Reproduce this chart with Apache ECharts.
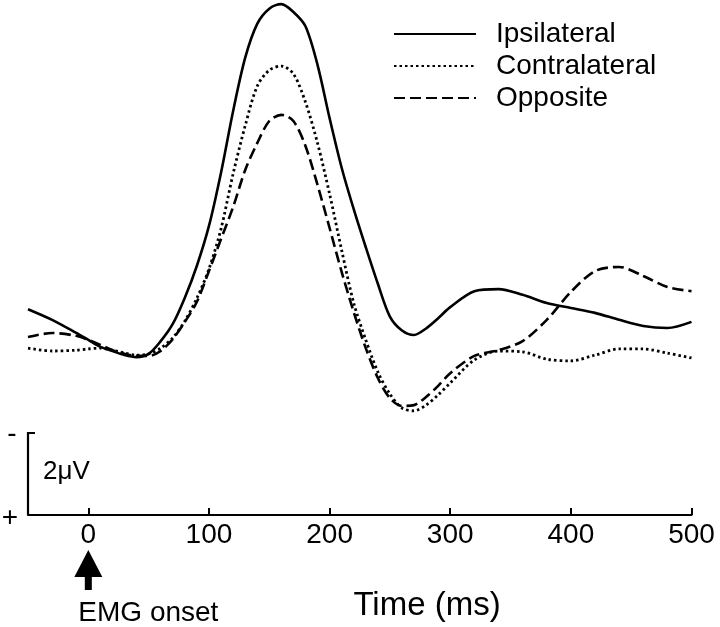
<!DOCTYPE html>
<html>
<head>
<meta charset="utf-8">
<script src="https://cdn.jsdelivr.net/npm/echarts@6/dist/echarts.min.js"></script>
<style>
html,body{margin:0;padding:0;background:#fff;}
#chart{width:720px;height:627px;}
</style>
</head>
<body>
<div id="chart"></div>
<script>
// Time (ms)
const times = [-50,-30,-10,0,10,20,30,40,50,60,70,80,90,100,110,120,130,140,150,160,170,180,190,200,210,220,230,240,250,260,270,280,290,300,320,340,360,380,400,420,440,460,480,500];
// Amplitude (µV), negative plotted upward
const ipsilateral = [-1.02,-0.76,-0.44,-0.27,-0.10,0.00,0.10,0.15,0.07,-0.24,-0.66,-1.30,-2.08,-3.05,-4.35,-5.85,-7.15,-7.98,-8.35,-8.46,-8.27,-7.92,-6.98,-5.68,-4.47,-3.46,-2.53,-1.64,-0.84,-0.50,-0.39,-0.55,-0.80,-1.07,-1.46,-1.51,-1.37,-1.17,-1.05,-0.93,-0.76,-0.61,-0.56,-0.71];
const contralateral = [-0.07,0.00,-0.02,-0.05,-0.07,-0.02,0.05,0.10,0.07,-0.07,-0.32,-0.73,-1.29,-2.00,-2.98,-4.32,-5.49,-6.46,-6.85,-6.95,-6.76,-6.07,-5.07,-3.83,-2.46,-1.17,-0.27,0.51,1.05,1.39,1.46,1.32,1.07,0.78,0.22,0.00,0.02,0.20,0.24,0.10,-0.05,-0.05,0.05,0.17];
const opposite = [-0.34,-0.44,-0.37,-0.27,-0.15,-0.02,0.07,0.12,0.12,0.00,-0.29,-0.71,-1.20,-1.95,-2.73,-3.51,-4.41,-5.07,-5.61,-5.76,-5.61,-5.00,-4.05,-3.00,-1.93,-0.95,-0.07,0.66,1.15,1.34,1.32,1.12,0.85,0.54,0.12,-0.02,-0.24,-0.76,-1.44,-1.95,-2.05,-1.83,-1.56,-1.46];
const tickValues = [0,100,200,300,400,500];
const seriesNames = ['Ipsilateral','Contralateral','Opposite'];
const scaleBar = [2, 4]; // µV span of the calibration bar (2 µV)

const FONT = 'Liberation Sans, Arial, Helvetica, sans-serif';
const chart = echarts.init(document.getElementById('chart'), null, {renderer:'canvas'});

function pairs(arr){ return times.map((t,i)=>[t, arr[i]]); }

const lineBase = {type:'line', smooth:0.3, symbol:'none', showSymbol:false, silent:true, animation:false};

chart.setOption({
  animation:false,
  backgroundColor:'#ffffff',
  grid:{left:28, right:28.5, top:2.5, bottom:112, containLabel:false},
  legend:{
    orient:'vertical', left:388, top:15,
    itemWidth:82, itemHeight:14, itemGap:4,
    itemStyle:{color:'rgba(0,0,0,0)', borderWidth:0, opacity:0},
    textStyle:{fontFamily:FONT, fontSize:28, color:'#000', padding:[0,0,0,15]},
    data:seriesNames
  },
  xAxis:{
    type:'value', min:-50, max:500,
    axisLine:{show:true, onZero:false, lineStyle:{color:'#000', width:2.2}},
    axisTick:{show:true, inside:true, length:7, customValues:tickValues, lineStyle:{color:'#000', width:2}},
    axisLabel:{show:true, customValues:tickValues, margin:6, fontFamily:FONT, fontSize:28, color:'#000'},
    splitLine:{show:false}
  },
  yAxis:{
    type:'value', inverse:true, min:-8.5, max:4,
    show:false, splitLine:{show:false}
  },
  series:[
    Object.assign({}, lineBase, {name:seriesNames[0], data:pairs(ipsilateral), lineStyle:{color:'#000', width:2.6, type:'solid'}, itemStyle:{color:'#000'}}),
    Object.assign({}, lineBase, {name:seriesNames[1], data:pairs(contralateral), lineStyle:{color:'#000', width:2.8, type:[2.5,3]}, itemStyle:{color:'#000'}}),
    Object.assign({}, lineBase, {name:seriesNames[2], data:pairs(opposite), lineStyle:{color:'#000', width:2.6, type:[11,5]}, itemStyle:{color:'#000'}})
  ]
});

// annotations positioned through the axes
const pTop = chart.convertToPixel({gridIndex:0}, [-50, scaleBar[0]]);
const pBot = chart.convertToPixel({gridIndex:0}, [-50, scaleBar[1]]);
const pZero = chart.convertToPixel({gridIndex:0}, [0, scaleBar[1]]);
const ax = pZero[0];
const base = pBot[1];

chart.setOption({
  graphic:[
    {type:'polyline', silent:true, shape:{points:[[pTop[0]+7, pTop[1]],[pTop[0], pTop[1]],[pBot[0], pBot[1]]]}, style:{stroke:'#000', lineWidth:2.2, fill:null}},
    {type:'text', silent:true, x:pTop[0]-16, y:pTop[1]+1, style:{text:'-', font:'28px '+FONT, fill:'#000', align:'center', verticalAlign:'middle'}},
    {type:'text', silent:true, x:pBot[0]-18, y:pBot[1]+3, style:{text:'+', font:'28px '+FONT, fill:'#000', align:'center', verticalAlign:'middle'}},
    {type:'text', silent:true, x:pTop[0]+15, y:(pTop[1]+pBot[1])/2-2, style:{text:'2\u03BCV', font:'26px '+FONT, fill:'#000', align:'left', verticalAlign:'middle'}},
    {type:'polygon', silent:true, shape:{points:[[ax, base+35],[ax-14, base+62],[ax-3.5, base+62],[ax-3.5, base+75],[ax+3.5, base+75],[ax+3.5, base+62],[ax+14, base+62]]}, style:{fill:'#000'}},
    {type:'text', silent:true, x:ax-10, y:base+98, style:{text:'EMG onset', font:'28px '+FONT, fill:'#000', align:'left', verticalAlign:'middle'}},
    {type:'text', silent:true, x:427, y:base+91, style:{text:'Time (ms)', font:'33px '+FONT, fill:'#000', align:'center', verticalAlign:'middle'}}
  ]
});
</script>
</body>
</html>
